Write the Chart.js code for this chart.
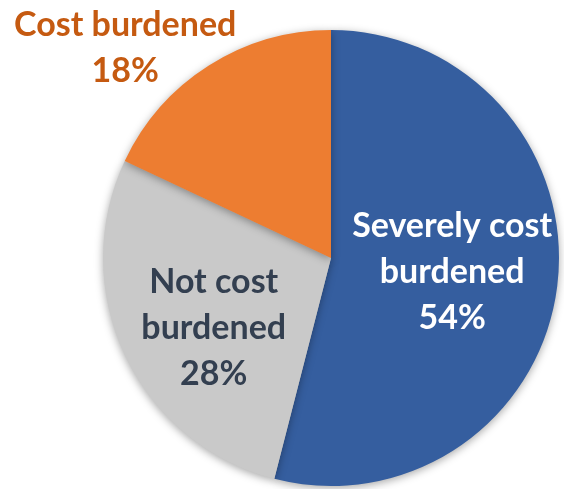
<!DOCTYPE html>
<html>
<head>
<meta charset="utf-8">
<script src="https://cdn.jsdelivr.net/npm/chart.js@4.4.1/dist/chart.umd.min.js"></script>
<style>
  html, body { margin: 0; padding: 0; background: #fff; }
  #wrap { width: 564px; height: 489px; }
</style>
</head>
<body>
<div id="wrap"><canvas id="grafico"></canvas></div>
<script>
// datos del gráfico
const categorias = ["Severely cost burdened", "Not cost burdened", "Cost burdened"];
const lineasEtiqueta = [["Severely cost", "burdened"], ["Not cost", "burdened"], ["Cost burdened"]];
const porcentajes = [54, 28, 18];

const colores = ["#355E9F", "#C9C9C9", "#ED7D31"];
const coloresTexto = ["#FFFFFF", "#333F50", "#C55A11"];
// posicion de cada etiqueta: fraccion del radio y giro respecto al angulo medio (grados)
const posEtiqueta = [
  { f: 0.535, giro: -0.6 },
  { f: 0.6, giro: -5.8 },
  { f: 1.29, giro: -12 },
];

const sombra = {
  id: "sombra",
  beforeDatasetDraw(chart) {
    const ctx = chart.ctx;
    ctx.save();
    ctx.shadowColor = "rgba(0,0,0,0.35)";
    ctx.shadowBlur = 9;
    ctx.shadowOffsetY = 2;
  },
  afterDatasetDraw(chart) {
    chart.ctx.restore();
  },
};

const etiquetas = {
  id: "etiquetas",
  afterDraw(chart) {
    const ctx = chart.ctx;
    const arcos = chart.getDatasetMeta(0).data;
    ctx.save();
    ctx.font = "bold 34px Lato, 'Open Sans', sans-serif";
    ctx.textAlign = "center";
    ctx.textBaseline = "middle";
    arcos.forEach((arco, i) => {
      const medio = (arco.startAngle + arco.endAngle) / 2 + posEtiqueta[i].giro * Math.PI / 180;
      const r = arco.outerRadius * posEtiqueta[i].f;
      const x = arco.x + Math.cos(medio) * r;
      const y = arco.y + Math.sin(medio) * r;
      const lineas = [...lineasEtiqueta[i], porcentajes[i] + "%"];
      const alto = 46;
      const y0 = y - (lineas.length - 1) * alto / 2;
      ctx.fillStyle = coloresTexto[i];
      lineas.forEach((t, j) => ctx.fillText(t, x, y0 + j * alto));
    });
    ctx.restore();
  },
};

new Chart(document.getElementById("grafico"), {
  type: "pie",
  data: {
    labels: categorias,
    datasets: [{
      data: porcentajes,
      backgroundColor: colores,
      borderWidth: 0,
    }],
  },
  options: {
    responsive: true,
    maintainAspectRatio: false,
    animation: false,
    layout: { padding: { left: 103, right: 5, top: 30, bottom: 3 } },
    plugins: {
      legend: { display: false },
      tooltip: { enabled: false },
    },
  },
  plugins: [sombra, etiquetas],
});
</script>
</body>
</html>
